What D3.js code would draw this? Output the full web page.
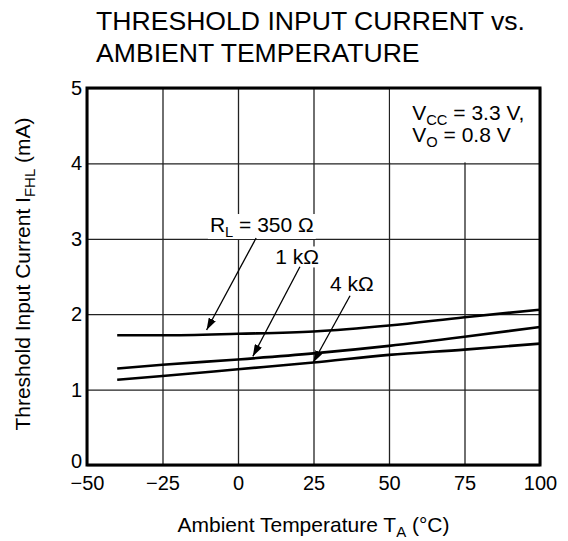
<!DOCTYPE html>
<html>
<head>
<meta charset="utf-8">
<script src="https://cdn.jsdelivr.net/npm/d3@7"></script>
<style>
  body { margin: 0; background: #fff; }
  text { font-family: "Liberation Sans", Arial, Helvetica, sans-serif; fill: #000; }
</style>
</head>
<body>
<div id="container"></div>
<script>
// values
const temps = [-40, -25, 0, 25, 50, 75, 100];
const r350 = [1.72, 1.72, 1.74, 1.77, 1.85, 1.96, 2.06];
const r1k  = [1.28, 1.33, 1.40, 1.48, 1.58, 1.70, 1.83];
const r4k  = [1.13, 1.18, 1.27, 1.36, 1.46, 1.53, 1.61];

const xTicks = [-50, -25, 0, 25, 50, 75, 100];
const yTicks = [0, 1, 2, 3, 4, 5];

const seriesNames = ["350 Ω", "1 kΩ", "4 kΩ"];

const chartWidth = 568, chartHeight = 541;
const plotLeft = 87, plotTop = 88, plotRight = 540, plotBottom = 465;

let svg = d3.select("#container")
  .append("svg")
    .attr("width", chartWidth)
    .attr("height", chartHeight)
    .style("background-color", "white");

let x = d3.scaleLinear().domain([-50, 100]).range([plotLeft, plotRight]);
let y = d3.scaleLinear().domain([0, 5]).range([plotBottom, plotTop]);

// grid + tick labels
let xAxis = svg.append("g")
  .attr("transform", "translate(0," + plotBottom + ")")
  .call(d3.axisBottom(x).tickValues(xTicks).tickSize(-(plotBottom - plotTop)).tickPadding(11));

let yAxis = svg.append("g")
  .attr("transform", "translate(" + plotLeft + ",0)")
  .call(d3.axisLeft(y).tickValues(yTicks).tickFormat(d3.format("d")).tickSize(-(plotRight - plotLeft)).tickPadding(5));

[xAxis, yAxis].forEach(function(a) {
  a.select(".domain").remove();
  a.selectAll("line").attr("stroke", "#222").attr("stroke-width", 1.3);
  a.selectAll("text").style("font-size", "20px").attr("fill", "#000");
});
// bottom-left "0" sits a touch higher so it clears "−50"
yAxis.selectAll(".tick text").filter(function(d) { return d === 0; }).attr("dy", "0.1em");

// the conditions box hides the grid under it
svg.append("rect")
  .attr("x", x(50) + 1)
  .attr("y", y(5))
  .attr("width", x(100) - x(50) - 1)
  .attr("height", y(4) - y(5) - 1)
  .attr("fill", "white");

// arrow marker
svg.append("defs").append("marker")
  .attr("id", "head")
  .attr("viewBox", "0 0 12 8")
  .attr("refX", 12)
  .attr("refY", 4)
  .attr("markerWidth", 12)
  .attr("markerHeight", 8)
  .attr("markerUnits", "userSpaceOnUse")
  .attr("orient", "auto")
  .append("path")
    .attr("d", "M0,0 L12,4 L0,8 Z")
    .attr("fill", "#000");

// curves
let line = d3.line()
  .x(function(d) { return x(d[0]); })
  .y(function(d) { return y(d[1]); })
  .curve(d3.curveMonotoneX);

[r350, r1k, r4k].forEach(function(vals) {
  svg.append("path")
    .datum(temps.map(function(t, i) { return [t, vals[i]]; }))
    .attr("d", line)
    .attr("fill", "none")
    .attr("stroke", "#000")
    .attr("stroke-width", 2.6);
});

// callouts: text start, arrow tail and tip in data units
let callouts = [
  { pre: "R", sub: "L", post: " = " + seriesNames[0], tx: -9.3, ty: 3.09, a: [6.0, 3.01, -10.4, 1.79] },
  { pre: seriesNames[1], sub: "", post: "", tx: 12.3, ty: 2.66, a: [20.5, 2.63, 4.9, 1.44] },
  { pre: seriesNames[2], sub: "", post: "", tx: 30.5, ty: 2.31, a: [37.1, 2.245, 24.9, 1.36] }
];

function addText(g, px, py, pre, sub, post, size) {
  let t = g.append("text")
    .attr("x", px)
    .attr("y", py)
    .style("font-size", size + "px");
  t.append("tspan").text(pre);
  if (sub) {
    t.append("tspan").attr("dy", 5).style("font-size", (size * 0.7) + "px").text(sub);
    t.append("tspan").attr("dy", -5).text(post);
  } else if (post) {
    t.append("tspan").text(post);
  }
  return t;
}

callouts.forEach(function(c) {
  let g = svg.append("g");
  let t = addText(g, x(c.tx), y(c.ty), c.pre, c.sub, c.post, 21);
  let b = t.node().getBBox();
  g.insert("rect", "text")
    .attr("x", b.x - 2)
    .attr("y", b.y + 1)
    .attr("width", b.width + 4)
    .attr("height", b.height - 2)
    .attr("fill", "white");
  svg.append("line")
    .attr("x1", x(c.a[0])).attr("y1", y(c.a[1]))
    .attr("x2", x(c.a[2])).attr("y2", y(c.a[3]))
    .attr("stroke", "#000")
    .attr("stroke-width", 1.3)
    .attr("marker-end", "url(#head)");
});

// conditions text, two lines in one text element
let cond = svg.append("text")
  .attr("x", x(57.7))
  .attr("y", y(4.57))
  .style("font-size", "21px");
cond.append("tspan").text("V");
cond.append("tspan").attr("dy", 5).style("font-size", "14.7px").text("CC");
cond.append("tspan").attr("dy", -5).text(" = 3.3 V,");
cond.append("tspan").attr("x", x(57.7)).attr("y", y(4.29)).text("V");
cond.append("tspan").attr("dy", 5).style("font-size", "14.7px").text("O");
cond.append("tspan").attr("dy", -5).text(" = 0.8 V");

// frame
svg.append("rect")
  .attr("x", plotLeft)
  .attr("y", plotTop)
  .attr("width", plotRight - plotLeft)
  .attr("height", plotBottom - plotTop)
  .attr("fill", "none")
  .attr("stroke", "#000")
  .attr("stroke-width", 3);

// title
svg.append("text").attr("x", 96).attr("y", 29.5).style("font-size", "26.6px").text("THRESHOLD INPUT CURRENT vs.");
svg.append("text").attr("x", 96).attr("y", 61.5).style("font-size", "26.6px").text("AMBIENT TEMPERATURE");

// x axis title
let xt = svg.append("text")
  .attr("x", (plotLeft + plotRight) / 2)
  .attr("y", 531.5)
  .attr("text-anchor", "middle")
  .style("font-size", "21px");
xt.append("tspan").text("Ambient Temperature T");
xt.append("tspan").attr("dy", 5).style("font-size", "15px").text("A");
xt.append("tspan").attr("dy", -5).text(" (°C)");

// y axis title
let yt = svg.append("text")
  .attr("transform", "translate(30,274) rotate(-90)")
  .attr("text-anchor", "middle")
  .style("font-size", "21px");
yt.append("tspan").text("Threshold Input Current I");
yt.append("tspan").attr("dy", 5).style("font-size", "15px").text("FHL");
yt.append("tspan").attr("dy", -5).text(" (mA)");
</script>
</body>
</html>
